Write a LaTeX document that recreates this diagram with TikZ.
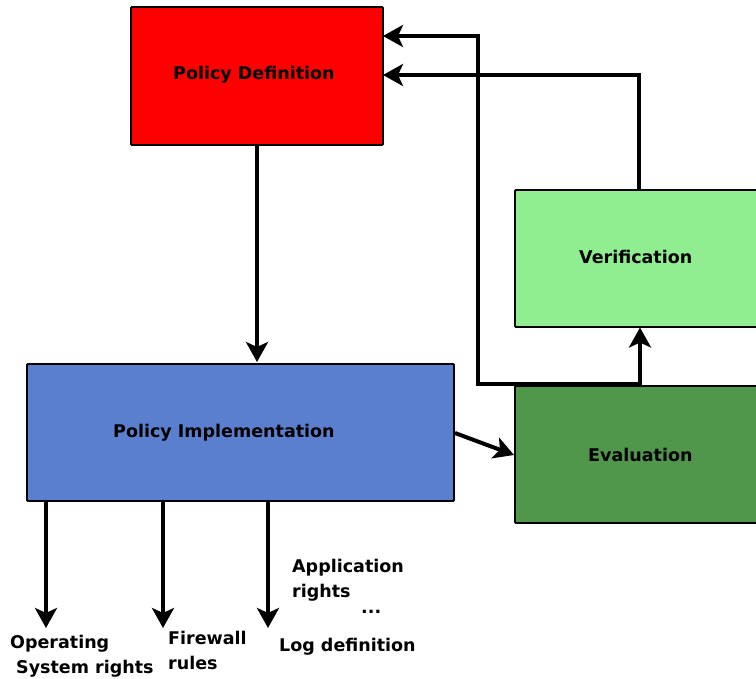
\documentclass[tikz,border=0pt]{standalone}
\usepackage{fontspec}
\setmainfont{DejaVu Sans}
\usetikzlibrary{arrows.meta,calc}
\definecolor{pdred}{HTML}{FF0000}
\definecolor{piblue}{HTML}{5A7FCF}
\definecolor{verlight}{HTML}{90EE90}
\definecolor{evaldark}{HTML}{50964B}
\begin{document}
\begin{tikzpicture}[x=1pt,y=-1pt,
  box/.style={draw=black, line width=1.8pt, rounded corners=1pt, inner sep=0pt, outer sep=0pt, anchor=north west},
  lbl/.style={font=\fontsize{17.5}{24.5}\selectfont\bfseries, inner sep=0pt, anchor=base west, align=left},
  conn/.style={line width=4pt, -{Stealth[length=20pt,width=22pt,inset=5pt]}}
]
\useasboundingbox (0,0) rectangle (756,679);
\clip (0,0) rectangle (756,679);

% boxes
\node[box, fill=pdred, minimum width=252pt, minimum height=138pt] (pd) at (131,7) {};
\node[box, fill=piblue, minimum width=427pt, minimum height=137pt] (pi) at (27,364) {};
\node[box, fill=verlight, minimum width=260pt, minimum height=137pt] (ver) at (515,190) {};
\node[box, fill=evaldark, minimum width=260pt, minimum height=137pt] (eval) at (515,386) {};

% box labels
\node[lbl] (pdl) at (173,80) {Policy Definition};
\node[lbl] (pil) at (113,437) {Policy Implementation};
\node[lbl] (verl) at (579,264) {Verification};
\node[lbl] (evall) at (588,461) {Evaluation};

% coordinates
\coordinate (pdin1) at ($(pd.north east)+(0,29)$);
\coordinate (pdin2) at ($(pd.north east)+(0,68)$);
\coordinate (bend) at (478,384.5);
\coordinate (evtop) at ($(eval.north west)+(125,0)$);
\coordinate (vertop) at ($(ver.north west)+(124,0)$);
\coordinate (piout) at ($(pi.north east)+(1,69)$);
\coordinate (evin) at ($(eval.north west)+(-1,69)$);
\coordinate (o1) at (46,628);
\coordinate (o2) at (163,628);
\coordinate (o3) at (268,628);

% connectors
\draw[conn, shorten >=2pt] (pd.south) -- (pd.south |- pi.north);
\draw[conn] (piout) -- (evin);
\draw[conn, shorten >=0.5pt] (evtop) -- (evtop |- ver.south);
\draw[conn] (vertop) |- (pdin2);
\draw[conn] (evtop |- bend) -- (bend) |- (pdin1);
\draw[conn] (o1 |- pi.south) -- (o1);
\draw[conn] (o2 |- pi.south) -- (o2);
\draw[conn] (o3 |- pi.south) -- (o3);

% output labels (base = baseline of the last line)
\node[lbl] (os) at (10,673) {Operating\\\hspace*{6pt}System rights};
\node[lbl] (fw) at (168,669) {Firewall\\rules};
\node[lbl] (app) at (292,597) {Application\\rights};
\node[lbl] (dots) at (361,613) {...};
\node[lbl] (log) at (279,651) {Log definition};
\end{tikzpicture}
\end{document}
